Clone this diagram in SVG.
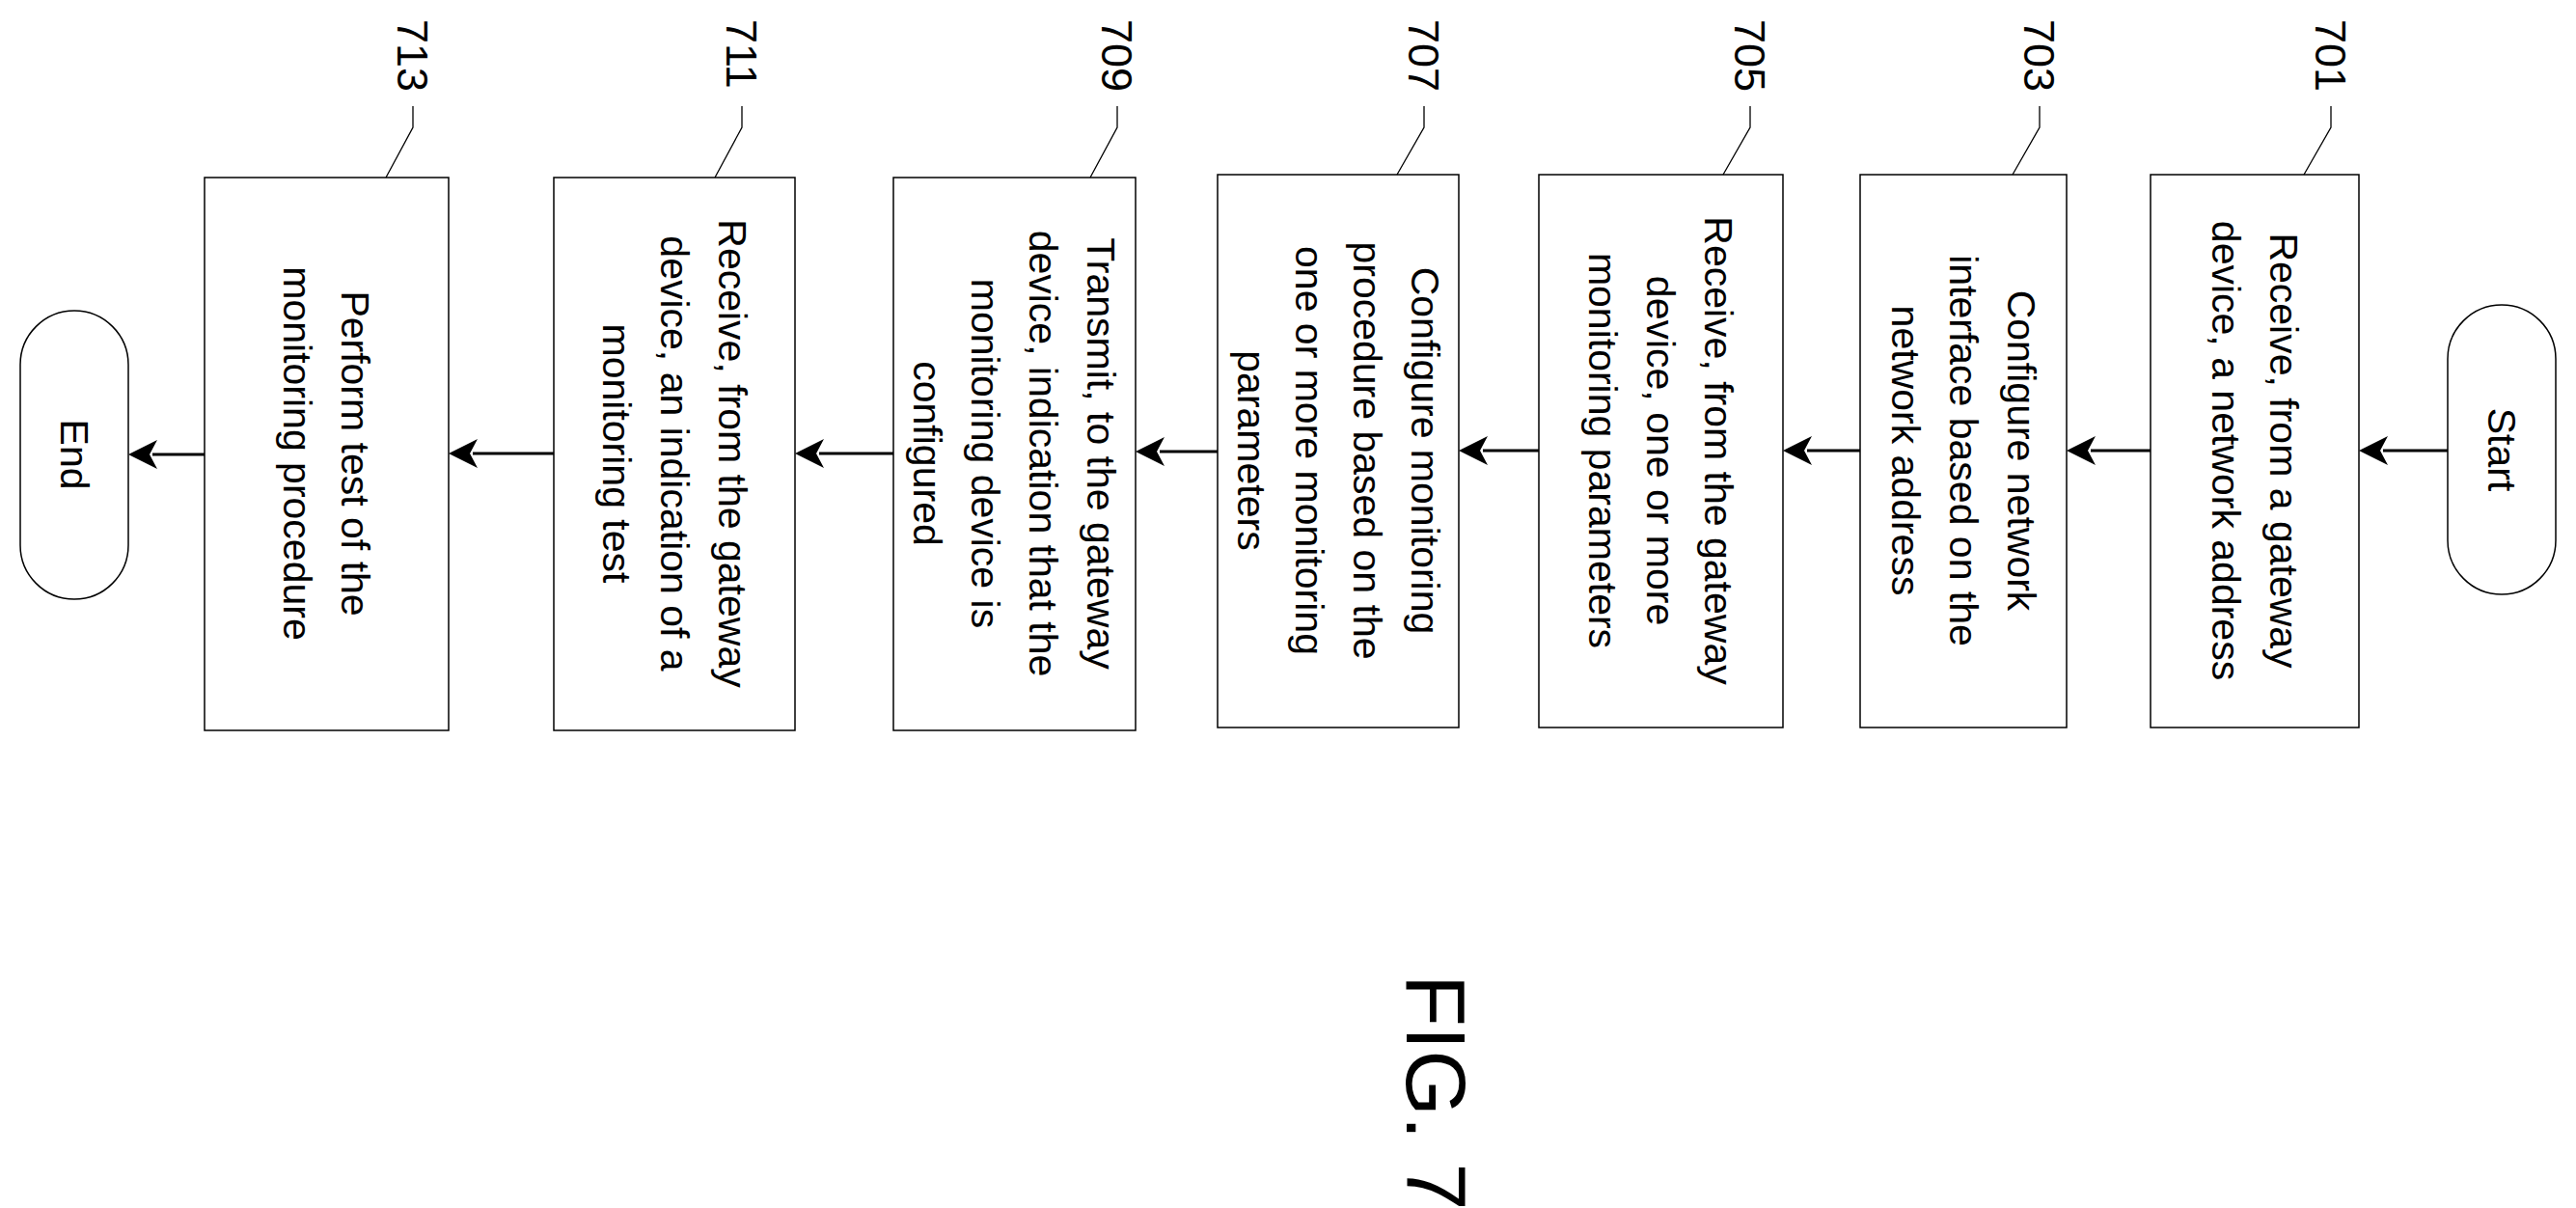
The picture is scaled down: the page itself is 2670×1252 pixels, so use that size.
<svg xmlns="http://www.w3.org/2000/svg" width="2670" height="1252" viewBox="0 0 2670 1252">
<style>
.box{fill:#fff;stroke:#000;stroke-width:1.5}
.t{font-family:"Liberation Sans",Arial,sans-serif;font-size:41px;text-anchor:middle;fill:#000}
.n{font-family:"Liberation Sans",Arial,sans-serif;font-size:45px;fill:#000}
.ld{fill:none;stroke:#000;stroke-width:1.3}
.ar{stroke:#000;stroke-width:3;fill:none;marker-end:url(#ah)}
</style>
<defs>
<marker id="ah" markerWidth="10" markerHeight="10" refX="9" refY="5" orient="auto" markerUnits="userSpaceOnUse" viewBox="0 0 10 10">
</marker>
</defs>
<rect width="2670" height="1252" fill="#fff"/>
<g id="start"><rect x="2537" y="316" width="112" height="300" rx="56" class="box"/>
<text class="t" transform="translate(2593,466) rotate(90)" y="14">Start</text></g>
<g id="n701"><rect x="2229" y="181" width="216" height="573" class="box"/>
<text class="t" transform="translate(2337,467) rotate(90)"><tspan x="0" y="-16">Receive, from a gateway</tspan><tspan x="0" y="44">device, a network address</tspan></text>
<text class="n" transform="translate(2400,20) rotate(90)">701</text>
<polyline class="ld" points="2416,110 2416,132 2388,181"/></g>
<g id="n703"><rect x="1928" y="181" width="214" height="573" class="box"/>
<text class="t" transform="translate(2035,467) rotate(90)"><tspan x="0" y="-46">Configure network</tspan><tspan x="0" y="14">interface based on the</tspan><tspan x="0" y="74">network address</tspan></text>
<text class="n" transform="translate(2098,20) rotate(90)">703</text>
<polyline class="ld" points="2114,110 2114,132 2086,181"/></g>
<g id="n705"><rect x="1595" y="181" width="253" height="573" class="box"/>
<text class="t" transform="translate(1721,467) rotate(90)"><tspan x="0" y="-46">Receive, from the gateway</tspan><tspan x="0" y="14">device, one or more</tspan><tspan x="0" y="74">monitoring parameters</tspan></text>
<text class="n" transform="translate(1798,20) rotate(90)">705</text>
<polyline class="ld" points="1814,110 1814,132 1786,181"/></g>
<g id="n707"><rect x="1262" y="181" width="250" height="573" class="box"/>
<text class="t" transform="translate(1387,467) rotate(90)"><tspan x="0" y="-76">Configure monitoring</tspan><tspan x="0" y="-16">procedure based on the</tspan><tspan x="0" y="44">one or more monitoring</tspan><tspan x="0" y="104">parameters</tspan></text>
<text class="n" transform="translate(1460,20) rotate(90)">707</text>
<polyline class="ld" points="1476,110 1476,132 1448,181"/></g>
<g id="n709"><rect x="926" y="184" width="251" height="573" class="box"/>
<text class="t" transform="translate(1051,470) rotate(90)"><tspan x="0" y="-76">Transmit, to the gateway</tspan><tspan x="0" y="-16">device, indication that the</tspan><tspan x="0" y="44">monitoring device is</tspan><tspan x="0" y="104">configured</tspan></text>
<text class="n" transform="translate(1142,20) rotate(90)">709</text>
<polyline class="ld" points="1158,110 1158,132 1130,184"/></g>
<g id="n711"><rect x="574" y="184" width="250" height="573" class="box"/>
<text class="t" transform="translate(699,470) rotate(90)"><tspan x="0" y="-46">Receive, from the gateway</tspan><tspan x="0" y="14">device, an indication of a</tspan><tspan x="0" y="74">monitoring test</tspan></text>
<text class="n" transform="translate(753,20) rotate(90)">711</text>
<polyline class="ld" points="769,110 769,132 741,184"/></g>
<g id="n713"><rect x="212" y="184" width="253" height="573" class="box"/>
<text class="t" transform="translate(338,470) rotate(90)"><tspan x="0" y="-16">Perform test of the</tspan><tspan x="0" y="44">monitoring procedure</tspan></text>
<text class="n" transform="translate(412,20) rotate(90)">713</text>
<polyline class="ld" points="428,110 428,132 400,184"/></g>
<g id="end"><rect x="21" y="322" width="112" height="299" rx="56" class="box"/>
<text class="t" transform="translate(77,471) rotate(90)" y="14">End</text></g>
<g id="connectors" fill="#000" stroke="#000" stroke-width="3">
<line x1="2537" y1="467" x2="2470" y2="467"/><polygon points="2445,467 2475,452 2467,467 2475,482" stroke="none"/>
<line x1="2229" y1="467" x2="2167" y2="467"/><polygon points="2142,467 2172,452 2164,467 2172,482" stroke="none"/>
<line x1="1928" y1="467" x2="1873" y2="467"/><polygon points="1848,467 1878,452 1870,467 1878,482" stroke="none"/>
<line x1="1595" y1="467" x2="1537" y2="467"/><polygon points="1512,467 1542,452 1534,467 1542,482" stroke="none"/>
<line x1="1262" y1="468" x2="1202" y2="468"/><polygon points="1177,468 1207,453 1199,468 1207,483" stroke="none"/>
<line x1="926" y1="470" x2="849" y2="470"/><polygon points="824,470 854,455 846,470 854,485" stroke="none"/>
<line x1="574" y1="470" x2="490" y2="470"/><polygon points="465,470 495,455 487,470 495,485" stroke="none"/>
<line x1="212" y1="471" x2="158" y2="471"/><polygon points="133,471 163,456 155,471 163,486" stroke="none"/>
</g>
<text id="fig" transform="translate(1458,1010) rotate(90)" style="font-family:'Liberation Sans',Arial,sans-serif;font-size:88px">FIG. 7</text>
</svg>
